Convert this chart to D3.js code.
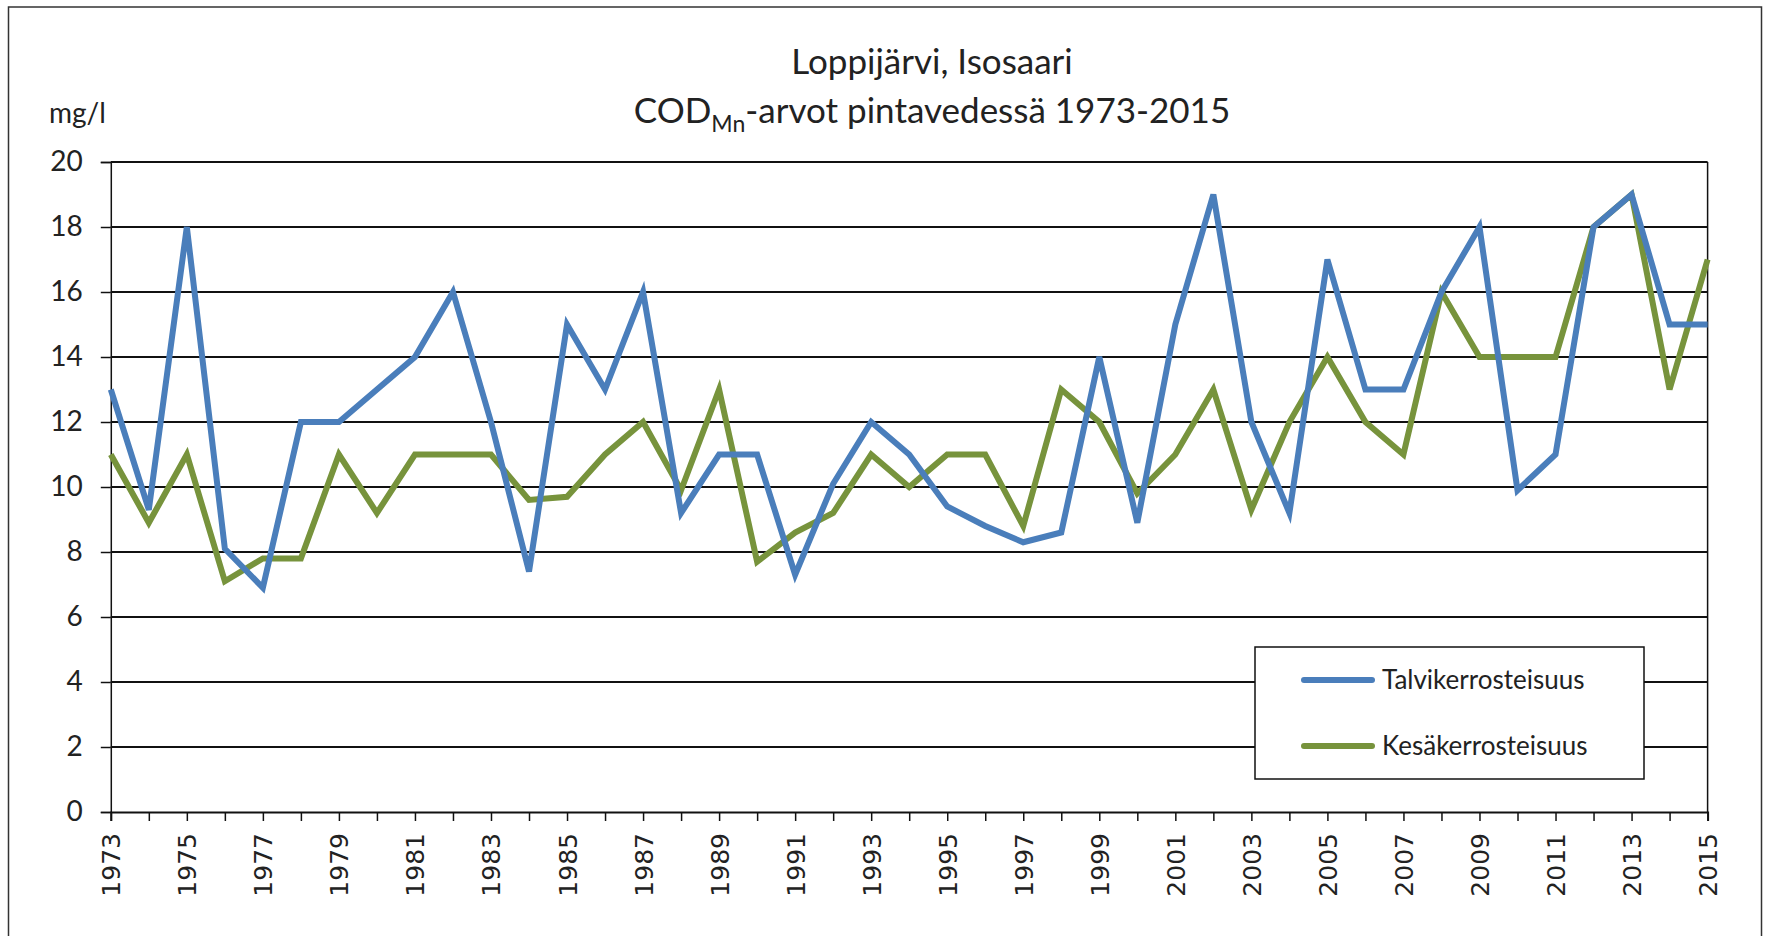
<!DOCTYPE html>
<html>

<head>
    <meta charset="utf-8">
    <style>
        body {
            margin: 0;
            background: white;
        }

        text {
            font-family: Lato, "Open Sans", sans-serif;
            fill: #222;
        }

        .xlab text {
            font-family: "DejaVu Sans", sans-serif;
        }
    </style>
</head>

<body>
    <div id="chart"></div>
    <script src="https://cdn.jsdelivr.net/npm/d3@7"></script>
    <script>

        // data
        const years = [1973, 1974, 1975, 1976, 1977, 1978, 1979, 1980, 1981, 1982,
            1983, 1984, 1985, 1986, 1987, 1988, 1989, 1990, 1991, 1992,
            1993, 1994, 1995, 1996, 1997, 1998, 1999, 2000, 2001, 2002,
            2003, 2004, 2005, 2006, 2007, 2008, 2009, 2010, 2011, 2012,
            2013, 2014, 2015]

        const talvi = [13, 9.3, 18, 8.1, 6.9, 12, 12, 13, 14, 16,
            12, 7.4, 15, 13, 16, 9.2, 11, 11, 7.3, 10.1,
            12, 11, 9.4, 8.8, 8.3, 8.6, 14, 8.9, 15, 19,
            12, 9.2, 17, 13, 13, 16, 18, 9.9, 11, 18,
            19, 15, 15]

        const kesa = [11, 8.9, 11, 7.1, 7.8, 7.8, 11, 9.2, 11, 11,
            11, 9.6, 9.7, 11, 12, 9.9, 13, 7.7, 8.6, 9.2,
            11, 10, 11, 11, 8.8, 13, 12, 9.8, 11, 13,
            9.3, 12, 14, 12, 11, 16, 14, 14, 14, 18,
            19, 13, 17]

        const yTicks = [0, 2, 4, 6, 8, 10, 12, 14, 16, 18, 20]
        const seriesNames = ["Talvikerrosteisuus", "Kesäkerrosteisuus"]
        const seriesColors = ["#4A7EBB", "#77933C"]

        const width = 1766
        const height = 936
        const plotLeft = 110.8, plotRight = 1707.6, plotTop = 162, plotBottom = 812

        const svg = d3.select("#chart")
            .append("svg")
            .attr("width", width)
            .attr("height", height)

        // outer chart frame (bottom edge is cut off in the original)
        svg.append("rect")
            .attr("x", 8.5)
            .attr("y", 7)
            .attr("width", 1753)
            .attr("height", 960)
            .attr("fill", "white")
            .attr("stroke", "#333")
            .attr("stroke-width", 1.5)

        const x = d3.scalePoint()
            .domain(years)
            .range([plotLeft, plotRight])

        const y = d3.scaleLinear()
            .domain([0, 20])
            .range([plotBottom, plotTop])

        // grid
        svg.append("g")
            .selectAll("line")
            .data(yTicks.filter(d => d > 0))
            .enter().append("line")
            .attr("x1", plotLeft)
            .attr("x2", plotRight)
            .attr("y1", d => y(d))
            .attr("y2", d => y(d))
            .attr("stroke", "#111")
            .attr("stroke-width", 2)

        // right edge of plot area
        svg.append("line")
            .attr("x1", plotRight).attr("x2", plotRight)
            .attr("y1", plotTop).attr("y2", plotBottom)
            .attr("stroke", "#111")
            .attr("stroke-width", 1.5)

        // y axis
        const yAxis = svg.append("g")
            .attr("transform", "translate(" + plotLeft + ",0)")
            .call(d3.axisLeft(y).tickValues(yTicks).tickSize(10).tickPadding(18))
        yAxis.selectAll("path, line").attr("stroke", "#111").attr("stroke-width", 1.5)
        yAxis.selectAll("text")
            .style("font-family", "Lato, sans-serif")
            .style("font-size", "28px")
            .attr("fill", "#222")

        // x axis
        const xAxis = svg.append("g")
            .attr("class", "xlab")
            .attr("transform", "translate(0," + plotBottom + ")")
            .call(d3.axisBottom(x).tickValues(years).tickSize(9)
                .tickFormat(d => d % 2 === 1 ? d : ""))
        xAxis.selectAll("path, line").attr("stroke", "#111").attr("stroke-width", 1.5)
        xAxis.select(".domain").attr("stroke-width", 2)
        xAxis.selectAll("text")
            .style("font-size", "25px")
            .attr("fill", "#222")
            .attr("text-anchor", "end")
            .attr("transform", "rotate(-90)")
            .attr("x", -21)
            .attr("y", 0)
            .attr("dy", "0.36em")

        // series lines
        const line = d3.line()
            .x((d, i) => x(years[i]))
            .y(d => y(d))

        svg.append("path")
            .datum(kesa)
            .attr("d", line)
            .attr("fill", "none")
            .attr("stroke", seriesColors[1])
            .attr("stroke-width", 6)

        svg.append("path")
            .datum(talvi)
            .attr("d", line)
            .attr("fill", "none")
            .attr("stroke", seriesColors[0])
            .attr("stroke-width", 6)

        // legend
        const legend = svg.append("g")
        legend.append("rect")
            .attr("x", 1255)
            .attr("y", 647)
            .attr("width", 389)
            .attr("height", 132)
            .attr("fill", "white")
            .attr("stroke", "#111")
            .attr("stroke-width", 1.5)

        const items = legend.selectAll(".item")
            .data(seriesNames)
            .enter().append("g")
            .attr("class", "item")
            .attr("transform", (d, i) => "translate(0," + (680 + i * 66) + ")")

        items.append("line")
            .attr("x1", 1304)
            .attr("x2", 1372)
            .attr("stroke", (d, i) => seriesColors[i])
            .attr("stroke-width", 6)
            .attr("stroke-linecap", "round")

        items.append("text")
            .attr("x", 1382)
            .attr("dy", "0.35em")
            .style("font-size", "26px")
            .text(d => d)

        // titles
        svg.append("text")
            .attr("x", 932)
            .attr("y", 74)
            .attr("text-anchor", "middle")
            .style("font-size", "35px")
            .text("Loppijärvi, Isosaari")

        const sub = svg.append("text")
            .attr("x", 932)
            .attr("y", 123)
            .attr("text-anchor", "middle")
            .style("font-size", "35px")
        sub.append("tspan").text("COD")
        sub.append("tspan").attr("dy", 9).style("font-size", "23px").text("Mn")
        sub.append("tspan").attr("dy", -9).text("-arvot pintavedessä 1973-2015")

        svg.append("text")
            .attr("x", 49)
            .attr("y", 123)
            .style("font-size", "28px")
            .text("mg/l")

    </script>
</body>

</html>
